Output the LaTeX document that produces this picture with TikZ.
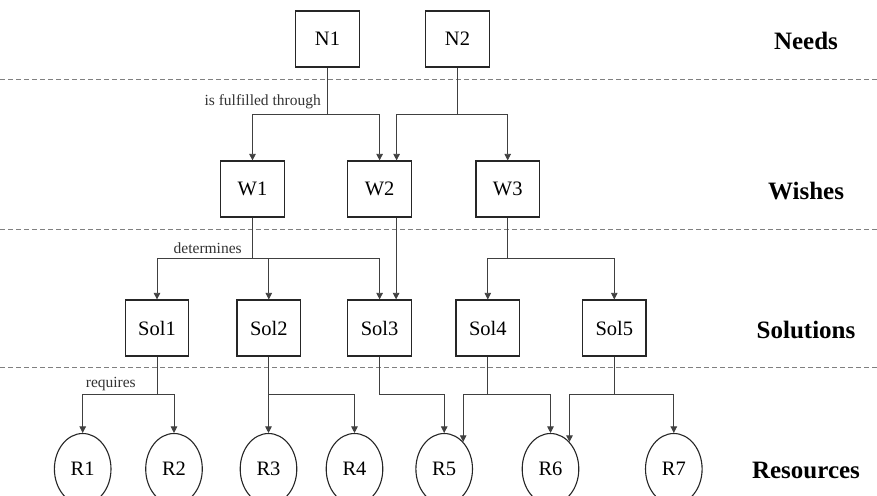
\documentclass[tikz,border=0pt]{standalone}
\usepackage{fontspec}
\setmainfont{Liberation Serif}
\usetikzlibrary{arrows.meta,calc,shapes.geometric}
\begin{document}
\begin{tikzpicture}[x=1pt,y=-1pt,
  box/.style={draw=black!85,line width=1.2pt,minimum width=63.5pt,minimum height=56pt,inner sep=0pt,font=\fontsize{20.5}{24}\selectfont},
  res/.style={draw=black!85,line width=1.1pt,ellipse,minimum width=56.6pt,minimum height=71pt,inner sep=0pt,font=\fontsize{20.5}{24}\selectfont},
  conn/.style={draw=black!75,line width=0.8pt,-{Triangle[width=6.5pt,length=6.5pt]}},
  layer/.style={font=\bfseries\fontsize{25}{30}\selectfont},
  lbl/.style={font=\fontsize{15.5}{18}\selectfont,text=black!80,inner sep=0pt},
  sep/.style={draw=black!50,dash pattern=on 5pt off 3pt,line width=0.8pt}]
\useasboundingbox (0,0) rectangle (877,495);
\fill[white] (0,0) rectangle (877,495);

% separators
\coordinate (s1l) at (0,79);   \coordinate (s1r) at (877,79);
\coordinate (s2l) at (0,229);  \coordinate (s2r) at (877,229);
\coordinate (s3l) at (0,367);  \coordinate (s3r) at (877,367);
\draw[sep] (s1l) -- (s1r);
\draw[sep] (s2l) -- (s2r);
\draw[sep] (s3l) -- (s3r);

% layer labels
\node[layer] (Lneeds) at (806,40.5) {Needs};
\node[layer] (Lwishes) at (806,191.5) {Wishes};
\node[layer] (Lsol) at (806,329.5) {Solutions};
\node[layer] (Lres) at (806,470) {Resources};

% needs
\node[box] (N1) at (327.5,39) {N1};
\node[box] (N2) at (457.5,39) {N2};
% wishes
\node[box] (W1) at (252.5,189) {W1};
\node[box] (W2) at (379.6,189) {W2};
\node[box] (W3) at (507.7,189) {W3};
% solutions
\node[box] (Sol1) at (157,328) {Sol1};
\node[box] (Sol2) at (268.8,328) {Sol2};
\node[box] (Sol3) at (379.6,328) {Sol3};
\node[box] (Sol4) at (487.8,328) {Sol4};
\node[box] (Sol5) at (614.3,328) {Sol5};
% resources
\node[res] (R1) at (82.7,469) {R1};
\node[res] (R2) at (174,469) {R2};
\node[res] (R3) at (268.5,469) {R3};
\node[res] (R4) at (354.5,469) {R4};
\node[res] (R5) at (444.2,469) {R5};
\node[res] (R6) at (550.5,469) {R6};
\node[res] (R7) at (673.8,469) {R7};

% junctions
\coordinate (jN1) at (327.5,114.5);
\coordinate (jN2) at (457.5,114.5);
\coordinate (jW1) at (252.5,258.3);
\coordinate (jW3) at (507.7,258.3);
\coordinate (jS1) at (157,394.3);
\coordinate (jS2) at (268.8,394.3);
\coordinate (jS3) at (379.6,394.3);
\coordinate (jS4) at (487.8,394.3);
\coordinate (jS5) at (614.3,394.3);

% needs -> wishes
\draw[conn] (N1.south) -- (jN1) -| (W1.north);
\draw[conn] (jN1) -| (W2.north);
\draw[conn] (N2.south) -- (jN2) -| ([xshift=17pt]W2.north);
\draw[conn] (jN2) -| (W3.north);

% wishes -> solutions
\draw[conn] (W1.south) -- (jW1) -| (Sol1.north);
\draw[conn] (jW1) -| (Sol2.north);
\draw[conn] (jW1) -| (Sol3.north);
\draw[conn] ([xshift=16.5pt]W2.south) -- ([xshift=16.5pt]Sol3.north);
\draw[conn] (W3.south) -- (jW3) -| (Sol4.north);
\draw[conn] (jW3) -| (Sol5.north);

% solutions -> resources
\draw[conn] (Sol1.south) -- (jS1) -| (R1.north);
\draw[conn] (jS1) -| (R2.north);
\draw[conn] (Sol2.south) -- (jS2) -| (R3.north);
\draw[conn] (jS2) -| (R4.north);
\draw[conn] (Sol3.south) -- (jS3) -| (R5.north);
\draw[conn] (Sol4.south) -- (jS4) -| (R5.55);
\draw[conn] (jS4) -| (R6.north);
\draw[conn] (Sol5.south) -- (jS5) -| (R6.55);
\draw[conn] (jS5) -| (R7.north);

% edge labels
\node[lbl,anchor=east] (l1) at (321,101.7) {is fulfilled through};
\node[lbl] (l2) at (207.7,248.3) {determines};
\node[lbl] (l3) at (110.8,384.3) {requires};
\end{tikzpicture}
\end{document}
